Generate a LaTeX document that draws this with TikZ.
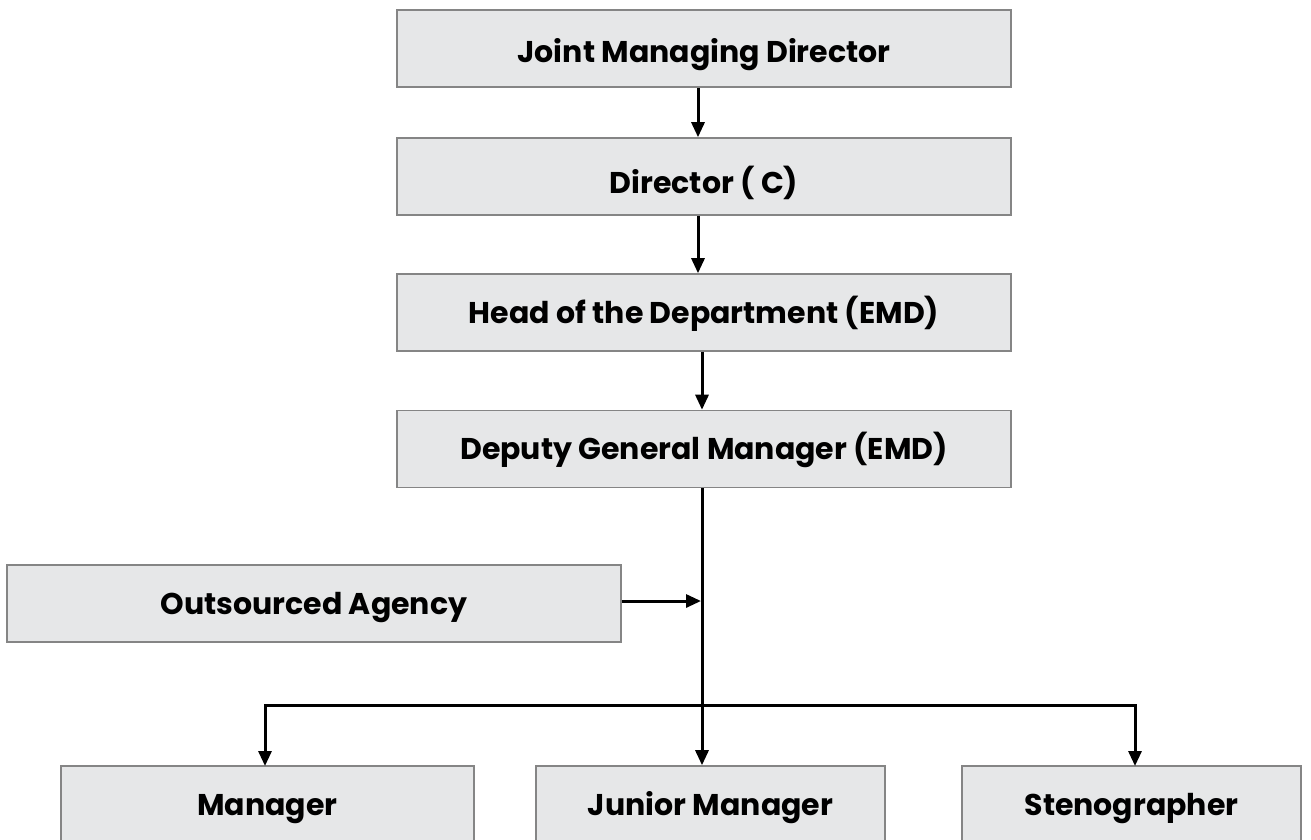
\documentclass[tikz,border=0pt]{standalone}
\usepackage{fontspec}
\setmainfont{Poppins}
\usetikzlibrary{arrows.meta}
\definecolor{boxfill}{HTML}{E6E7E8}
\definecolor{boxline}{HTML}{858585}
\begin{document}
\begin{tikzpicture}[x=1pt,y=-1pt,
  orgbox/.style={draw=boxline,line width=1.6pt,fill=boxfill,minimum height=77pt,
    inner sep=0pt,text height=21pt,text depth=0pt,
    font=\fontsize{30}{36}\selectfont\bfseries},
  conn/.style={line width=3pt,-{Triangle[length=15pt,width=13pt]}}]
\clip (0,0) rectangle (1311,839);
\fill[white] (0,0) rectangle (1311,839);
\node[orgbox,minimum width=614pt,text height=27pt] (jmd) at (704,48.5) {Joint Managing Director};
\node[orgbox,minimum width=614pt,text height=33pt] (dir) at (704,176.5) {Director ( C)};
\node[orgbox,minimum width=614pt] (hod) at (704,312.5) {Head of the Department (EMD)};
\node[orgbox,minimum width=614pt] (dgm) at (704,449) {Deputy General Manager (EMD)};
\node[orgbox,minimum width=614pt] (out) at (314,603.5) {Outsourced Agency};
\node[orgbox,minimum width=413pt] (mgr) at (267.5,804.5) {Manager};
\node[orgbox,minimum width=349pt] (jm) at (710.5,804.5) {Junior Manager};
\node[orgbox,minimum width=339pt] (st) at (1131.5,804.5) {Stenographer};
\coordinate (bus) at (702,705);
\coordinate (join) at (701,601);
\draw[conn] ([xshift=-6pt]jmd.south) -- ([xshift=-6pt]dir.north);
\draw[conn] ([xshift=-6pt]dir.south) -- ([xshift=-6pt]hod.north);
\draw[conn] ([xshift=-2pt]hod.south) -- ([xshift=-2pt]dgm.north);
\draw[conn] ([xshift=-2pt]dgm.south) -- (bus) -- (bus |- jm.north);
\draw[conn] (out.east |- join) -- (join);
\draw[conn] (bus) -- (265,705) -- (265,766);
\draw[conn] (bus) -- (1135,705) -- (1135,766);
\end{tikzpicture}
\end{document}
